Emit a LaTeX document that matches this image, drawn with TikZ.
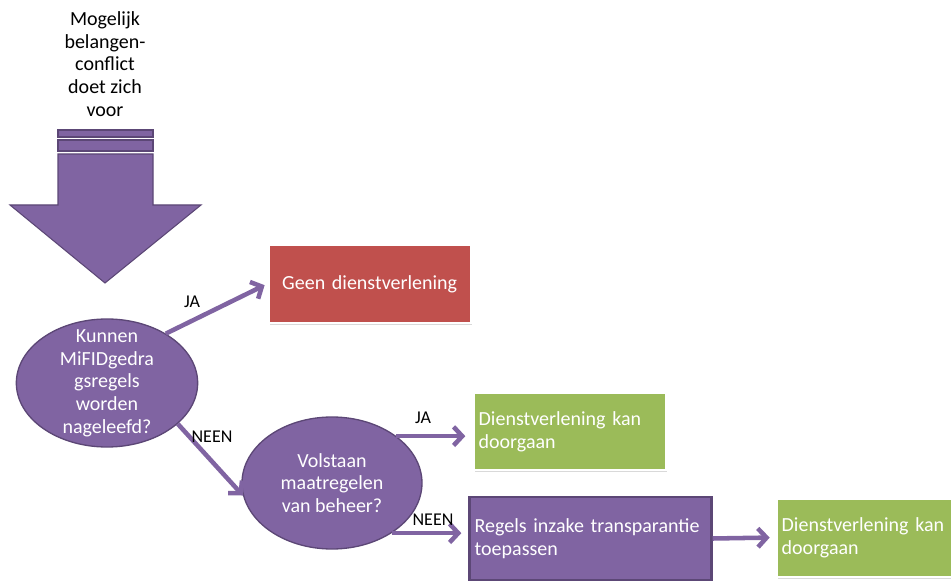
\documentclass[tikz,border=0pt]{standalone}
\usepackage{fontspec}
\setmainfont{Carlito}
\usetikzlibrary{shapes.geometric,arrows.meta,shadows}
\definecolor{paars}{HTML}{8064A2}
\definecolor{donkerpaars}{HTML}{5C4776}
\definecolor{rood}{HTML}{C0504D}
\definecolor{groen}{HTML}{9BBB59}
\begin{document}
\begin{tikzpicture}[x=.75pt,y=-.75pt,>={Straight Barb[length=6.5pt,width=14pt]},
  tekst/.style={font=\fontsize{15}{17}\selectfont},
  vraag/.style={ellipse,fill=paars,draw=donkerpaars,line width=1pt,inner sep=0pt},
  vraagtekst/.style={tekst,text=white,align=center},
  vak/.style={tekst,rectangle,text=white,draw=white,line width=2pt,inner xsep=4pt,
    drop shadow={opacity=.3,shadow xshift=1pt,shadow yshift=-1.5pt}},
  pijl/.style={->,draw=paars,line width=3.4pt},
  lab/.style={font=\fontsize{13.5}{15}\selectfont}]
\useasboundingbox (0,0) rectangle (951,581);
\node[tekst,align=center] (start) at (105,64) {Mogelijk\\belangen-\\conflict\\doet zich\\voor};
\filldraw[fill=paars,draw=donkerpaars,line width=.8pt] (58,130) rectangle (153,137);
\filldraw[fill=paars,draw=donkerpaars,line width=.8pt] (58,140) rectangle (153,151);
\filldraw[fill=paars,draw=donkerpaars,line width=.8pt] (58,154)--(153,154)--(153,205)--(201,205)--(105,283)--(10,205)--(58,205)--cycle;
\node[vraag,minimum width=136pt,minimum height=96pt,
  label={[vraagtekst]center:Kunnen\\MiFIDgedra\\gsregels\\worden\\nageleefd?}] (kunnen) at (107,383) {};
\node[vraag,minimum width=135pt,minimum height=99pt,
  label={[vraagtekst]center:Volstaan\\maatregelen\\van beheer?}] (volstaan) at (332,483) {};
\node[vak,fill=rood,anchor=west,text width=144pt,align=center,minimum height=58.5pt] (geen) at (267,284) {Geen dienstverlening};
\node[vak,fill=groen,anchor=west,text width=136.5pt,align=left,minimum height=57.75pt] (dienst1) at (472,431.5) {Dienstverlening kan\\doorgaan};
\node[vak,fill=paars,draw=donkerpaars,drop shadow={opacity=0},anchor=west,text width=173.5pt,align=left,minimum height=62.25pt] (regels) at (468,538.5) {Regels inzake transparantie\\toepassen};
\node[vak,fill=groen,anchor=west,text width=140pt,align=left,minimum height=59pt] (dienst2) at (775,537.5) {Dienstverlening kan\\doorgaan};
\draw[pijl,shorten >=2pt] (kunnen.40) -- (geen.west);
\draw[pijl] (kunnen.-30) -- (volstaan.188);
\draw[pijl,shorten >=5pt] (volstaan.36) -- (volstaan.36 -| dienst1.west);
\draw[pijl,shorten >=5pt] (volstaan.-40) -- (volstaan.-40 -| regels.west);
\draw[pijl,shorten >=4pt] (regels.east) -- (dienst2.west);
\node[lab] (ja1) at (192,302) {JA};
\node[lab] (neen1) at (212,437) {NEEN};
\node[lab] (ja2) at (423,418) {JA};
\node[lab] (neen2) at (433,520) {NEEN};
\end{tikzpicture}
\end{document}
